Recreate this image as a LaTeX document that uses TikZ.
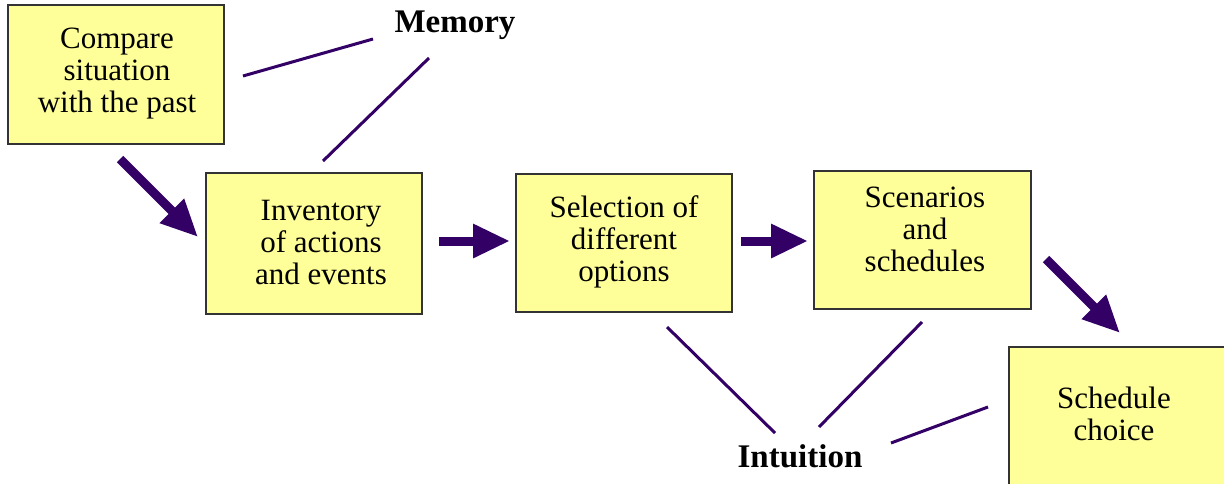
\documentclass[tikz,border=0pt]{standalone}
\usepackage{fontspec}
\setmainfont{Liberation Serif}
\usetikzlibrary{arrows.meta}
\definecolor{boxfill}{HTML}{FFFF99}
\definecolor{boxline}{HTML}{333333}
\definecolor{ink}{HTML}{330066}
\tikzset{
  box/.style={draw=boxline, fill=boxfill, line width=2pt},
  boxtext/.style={align=center, font=\rmfamily\fontsize{31}{32}\selectfont, inner sep=0pt},
  tag/.style={font=\rmfamily\bfseries\fontsize{33}{36}\selectfont, inner sep=0pt, anchor=base},
  thinline/.style={draw=ink, line width=3pt},
  bigarrow/.style={draw=ink, line width=9pt, -{Triangle[length=37pt,width=32pt]}},
}
\begin{document}
\begin{tikzpicture}[x=1pt,y=-1pt]
\useasboundingbox (0,0) rectangle (1224,483);
\begin{scope}
\clip (0,0) rectangle (1224,483);
% boxes
\path[box] (8,5) rectangle (224,144);
\path[box] (206,173) rectangle (422,314);
\path[box] (516,174) rectangle (732,312);
\path[box] (814,171) rectangle (1031,309);
\path[box] (1009,347) rectangle (1240,500);
\end{scope}
% box texts
\node[boxtext] (t1) at (117,74) {Compare\\situation\\with the past};
\node[boxtext] (t2) at (321,242) {Inventory\\of actions\\and events};
\node[boxtext] (t3) at (624,242) {Selection of\\different\\options};
\node[boxtext] (t4) at (925,229) {Scenarios\\and\\schedules};
\node[boxtext] (t5) at (1114,414) {Schedule\\choice};
% labels
\node[tag] (mem) at (455,32) {Memory};
\node[tag] (int) at (800,467) {Intuition};
% line end points
\coordinate (m1a) at (243,76);  \coordinate (m1b) at (373,39);
\coordinate (m2a) at (323,161); \coordinate (m2b) at (429,58);
\coordinate (i1a) at (667,327); \coordinate (i1b) at (775,433);
\coordinate (i2a) at (922,322); \coordinate (i2b) at (819,427);
\coordinate (i3a) at (891,443); \coordinate (i3b) at (988,407);
\draw[thinline] (m1a) -- (m1b);
\draw[thinline] (m2a) -- (m2b);
\draw[thinline] (i1a) -- (i1b);
\draw[thinline] (i2a) -- (i2b);
\draw[thinline] (i3a) -- (i3b);
% arrows
\coordinate (a1s) at (120,159); \coordinate (a1e) at (198,237);
\coordinate (a2s) at (439,241); \coordinate (a2e) at (510,241);
\coordinate (a3s) at (741,241); \coordinate (a3e) at (808,241);
\coordinate (a4s) at (1046,259); \coordinate (a4e) at (1120,333);
\draw[bigarrow] (a1s) -- (a1e);
\draw[bigarrow] (a2s) -- (a2e);
\draw[bigarrow] (a3s) -- (a3e);
\draw[bigarrow] (a4s) -- (a4e);
\end{tikzpicture}
\end{document}
